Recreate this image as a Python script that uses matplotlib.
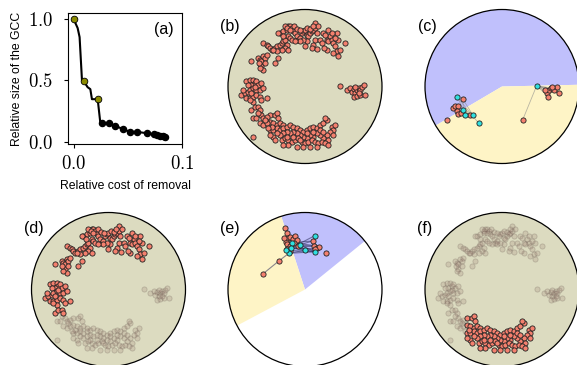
import matplotlib
matplotlib.use("Agg")
import matplotlib.pyplot as plt
from matplotlib.patches import Circle, Wedge
import numpy as np

plt.rcParams['font.family'] = ['Liberation Sans', 'DejaVu Sans']
plt.rcParams['mathtext.fontset'] = 'cm'

# ---- panel (a): GCC size vs cost of removal
cost = [0.0, 0.0037, 0.0055, 0.0077, 0.0092, 0.0129, 0.0154, 0.0169, 0.0215, 0.0222,
        0.0246, 0.0262, 0.0323, 0.0385, 0.046, 0.052, 0.0585, 0.0677, 0.0738, 0.077,
        0.080, 0.0825, 0.0846]
gcc = [1.0, 0.927, 0.853, 0.50, 0.496, 0.444, 0.428, 0.346, 0.346, 0.346,
       0.155, 0.15, 0.15, 0.128, 0.10, 0.079, 0.079, 0.068, 0.06, 0.054,
       0.049, 0.046, 0.041]
olive_idx = [0, 4, 9]
black_idx = [11, 12, 13, 14, 15, 16, 17, 18, 19, 20, 21, 22]

# ---- node embedding (disk coords, radius 1)
# group A: upper arc + left cluster
ax_A = [-0.54, -0.50, -0.48, -0.46, -0.43, -0.39, -0.37, -0.33, -0.30, -0.28, -0.26, -0.33, -0.28,
        -0.24, -0.22, -0.20, -0.17, -0.15, -0.13, -0.11, -0.09, -0.07, -0.04, -0.02, 0.00, 0.02,
        0.04, 0.07, 0.09, 0.11, 0.13, 0.15, 0.13, 0.11, 0.09, 0.02, -0.02, -0.07, -0.22, -0.20,
        -0.17, -0.24, -0.26, -0.22, -0.30, -0.37, -0.41, 0.13, 0.17, 0.24, 0.28, 0.30, 0.33, 0.35,
        0.37, 0.39, 0.41, 0.43, 0.37, 0.28, 0.30, 0.41, 0.52, 0.43, 0.46, 0.20, 0.22, 0.26,
        -0.26, -0.23, -0.20, -0.14, -0.10, -0.06, 0.03, 0.07, 0.10, -0.35, -0.29, -0.13, 0.00,
        0.16, 0.25, 0.35, 0.39,
        -0.61, -0.59, -0.57, -0.54, -0.52, -0.50, -0.57, -0.54, -0.59, -0.70, -0.35, -0.39, -0.60,
        -0.52,
        -0.76, -0.72, -0.67, -0.65, -0.70, -0.74, -0.63, -0.61, -0.57, -0.83, -0.78, -0.74, -0.72,
        -0.67, -0.63, -0.59, -0.54, -0.76, -0.72, -0.67, -0.63, -0.59, -0.50, -0.57, -0.67, -0.72,
        -0.80, -0.70, -0.65, -0.70, -0.65, -0.61, -0.59]
ay_A = [0.57, 0.54, 0.52, 0.50, 0.48, 0.50, 0.52, 0.54, 0.57, 0.59, 0.61, 0.70, 0.72,
        0.74, 0.78, 0.79, 0.76, 0.72, 0.70, 0.65, 0.61, 0.63, 0.70, 0.72, 0.74, 0.67,
        0.65, 0.70, 0.72, 0.74, 0.76, 0.70, 0.61, 0.54, 0.50, 0.59, 0.61, 0.59, 0.65, 0.63,
        0.61, 0.54, 0.50, 0.48, 0.48, 0.46, 0.48, 0.83, 0.78, 0.70, 0.61, 0.59, 0.65, 0.61,
        0.57, 0.52, 0.46, 0.39, 0.43, 0.48, 0.74, 0.70, 0.57, 0.61, 0.48, 0.61, 0.57, 0.67,
        0.78, 0.76, 0.73, 0.78, 0.75, 0.73, 0.76, 0.75, 0.78, 0.70, 0.65, 0.59, 0.52,
        0.49, 0.50, 0.70, 0.63,
        0.37, 0.35, 0.33, 0.39, 0.37, 0.41, 0.26, 0.22, 0.24, 0.33, 0.37, 0.30, 0.30,
        0.30,
        0.07, 0.09, 0.09, 0.04, 0.02, 0.02, 0.07, 0.02, 0.04, -0.11, -0.09, -0.07, -0.04,
        -0.02, -0.04, -0.04, -0.02, -0.15, -0.15, -0.13, -0.11, -0.13, -0.15, -0.17, -0.20, -0.17,
        -0.04, -0.09, 0.00, -0.30, -0.26, -0.26, -0.30]
# group B: lower arc core
bx_B = [-0.46, -0.39, -0.37, -0.35, -0.46, -0.41, -0.37, -0.33, -0.28, -0.46, -0.41, -0.37, -0.33,
        -0.28, -0.24, -0.20, -0.15, -0.11, -0.07, -0.02, 0.02, 0.07, 0.11, 0.15, 0.20, 0.24, 0.28,
        0.26, 0.35, 0.37, 0.39, 0.33, 0.28, 0.30, 0.24, 0.20, 0.15, 0.11, 0.07, 0.02, -0.02, -0.07,
        -0.11, -0.15, -0.20, -0.24, -0.28, -0.33, -0.37, -0.41, -0.46, -0.39, -0.30, -0.26, -0.22,
        -0.17, -0.13, -0.09, -0.04, 0.00, 0.04, 0.09, 0.13, 0.17, 0.22, 0.26, 0.30, -0.22, -0.28,
        -0.11, -0.02, 0.07, 0.15, 0.37, -0.43, -0.24, -0.15, -0.07, 0.02, 0.11, 0.20, 0.24]
by_B = [-0.37, -0.37, -0.35, -0.41, -0.46, -0.48, -0.50, -0.48, -0.50, -0.57, -0.57, -0.54, -0.57,
        -0.54, -0.52, -0.50, -0.52, -0.54, -0.57, -0.59, -0.57, -0.54, -0.52, -0.54, -0.50, -0.48, -0.43,
        -0.41, -0.52, -0.57, -0.50, -0.59, -0.63, -0.70, -0.67, -0.63, -0.61, -0.65, -0.63, -0.67, -0.65,
        -0.63, -0.61, -0.59, -0.61, -0.59, -0.61, -0.63, -0.61, -0.65, -0.63, -0.70, -0.70, -0.67, -0.70,
        -0.72, -0.70, -0.67, -0.72, -0.74, -0.72, -0.70, -0.72, -0.74, -0.72, -0.74, -0.76, -0.76, -0.76,
        -0.78, -0.78, -0.78, -0.78, -0.63, -0.52, -0.65, -0.65, -0.70, -0.61, -0.59, -0.57, -0.59]
# group C: lower-left tail + right cluster
cx_C = [-0.57, -0.67, -0.63, -0.54, -0.50, -0.59, -0.54, -0.50, -0.52, -0.67, -0.61, -0.48,
        0.46, 0.54, 0.59, 0.61, 0.63, 0.65, 0.67, 0.70, 0.72, 0.74, 0.76, 0.63, 0.67, 0.72, 0.78,
        0.70, 0.65]
cy_C = [-0.37, -0.41, -0.41, -0.41, -0.39, -0.48, -0.50, -0.48, -0.43, -0.65, -0.35, -0.54,
        0.01, -0.04, -0.02, -0.07, -0.03, -0.09, -0.05, -0.02, -0.04, -0.01, 0.02, -0.13, -0.12,
        -0.11, -0.11, -0.08, -0.01]

# ---- panel (c): coarse nodes + partition
c_red_x = [-0.51, -0.64, -0.61, -0.57, -0.59, -0.57, -0.53, -0.71, -0.42, 0.27,
           0.58, 0.61, 0.64, 0.67, 0.71, 0.60, 0.74, 0.56, 0.65]
c_red_y = [-0.16, -0.28, -0.25, -0.25, -0.32, -0.36, -0.35, -0.43, -0.37, -0.43,
           -0.08, -0.04, -0.02, -0.04, -0.01, -0.13, -0.09, -0.05, -0.01]
c_cyan_x = [-0.58, -0.50, -0.48, -0.38, -0.30, 0.45]
c_cyan_y = [-0.14, -0.30, -0.37, -0.37, -0.48, 0.01]
c_edges = [(24, 9), (24, 10), (24, 11), (24, 12), (24, 13), (24, 15), (24, 16), (24, 17),
           (19, 23), (0, 22), (19, 20), (20, 21), (0, 20), (3, 22), (1, 20), (20, 8)]
c_regions = [(1.3, 210.5, '#c0c0fc'), (210.5, 361.3, '#fef4c6')]

# ---- panel (e)
e_red_x = [-0.55, -0.34, -0.26, -0.24, -0.22, -0.20, -0.16, -0.13, -0.11, -0.25, -0.23, -0.20,
           -0.14, -0.09, 0.10, 0.12, 0.15, 0.18, 0.13, 0.27, -0.23, -0.19, -0.27]
e_red_y = [0.20, 0.37, 0.80, 0.74, 0.67, 0.68, 0.65, 0.70, 0.64, 0.62, 0.59, 0.56,
           0.60, 0.57, 0.63, 0.57, 0.54, 0.55, 0.52, 0.48, 0.52, 0.50, 0.67]
e_cyan_x = [0.13, -0.17, -0.07, 0.00, 0.13, -0.21, -0.25, -0.18]
e_cyan_y = [0.70, 0.61, 0.58, 0.51, 0.49, 0.47, 0.51, 0.54]
e_edges = [(0, 1), (1, 28), (28, 27), (28, 26), (30, 23), (30, 27), (24, 25), (25, 27), (24, 26),
           (29, 27), (24, 14), (24, 15), (30, 16), (25, 17), (26, 18), (24, 12), (30, 11), (29, 10),
           (24, 6), (30, 4), (28, 21), (29, 20), (24, 13), (25, 14), (30, 15)]
e_regions = [(39, 108, '#c0c0fc'), (108, 208, '#fef4c6')]

DISK = '#dcdbc0'
RED = '#f4806e'
CYAN = '#2fe0e0'
S = 14

fig = plt.figure(figsize=(5.77, 3.65), dpi=100)
W, H = 577.0, 365.0

# ---------------- (a)
ax = fig.add_axes([68 / W, 1 - 144 / H, 114 / W, 131 / H])
ax.plot(cost, gcc, color='black', lw=1.5, zorder=2)
ax.plot([cost[i] for i in black_idx], [gcc[i] for i in black_idx], 'o', color='black',
        ms=4.4, zorder=3)
ax.plot([cost[i] for i in olive_idx], [gcc[i] for i in olive_idx], 'o', mfc='#8a8a00',
        mec='black', mew=0.6, ms=4.8, zorder=4)
ax.set_xlim(-0.0052, 0.1)
ax.set_ylim(-0.02, 1.05)
ax.set_xticks([0.0, 0.1])
ax.set_xticklabels([r'$0.0$', r'$0.1$'], fontsize=13.5)
ax.set_yticks([0.0, 0.5, 1.0])
ax.set_yticklabels([r'$0.0$', r'$0.5$', r'$1.0$'], fontsize=13.5)
ax.tick_params(length=3, width=0.8)
ax.tick_params(axis='y', pad=8)
ax.tick_params(axis='x', pad=5)
ax.set_xlabel('Relative cost of removal', fontsize=8.8, labelpad=5)
ax.set_ylabel('Relative size of the GCC', fontsize=8.8, labelpad=3)
ax.text(0.93, 0.93, '(a)', transform=ax.transAxes, ha='right', va='top', fontsize=11.5)


def disk_axes(cx, cy, r=77):
    half = 1.05 * r
    a = fig.add_axes([(cx - half) / W, (H - cy - half) / H, 2 * half / W, 2 * half / H])
    a.set_xlim(-1.05, 1.05)
    a.set_ylim(-1.05, 1.05)
    a.set_aspect('equal')
    a.axis('off')
    return a


def draw_nodes(a, x, y, faded=False):
    if faded:
        a.scatter(x, y, s=S, facecolor='#9c7c72', edgecolor='#4a3a35', linewidths=0.6,
                  alpha=0.22, zorder=3)
    else:
        a.scatter(x, y, s=S, facecolor=RED, edgecolor='#222222', linewidths=0.6, zorder=4)


all_x = ax_A + bx_B + cx_C
all_y = ay_A + by_B + cy_C

# ---------------- (b)
axb = disk_axes(305, 86.5)
axb.add_patch(Circle((0, 0), 1, facecolor=DISK, edgecolor='black', lw=0.9))
draw_nodes(axb, all_x, all_y)
fig.text(230 / W, 1 - 27 / H, '(b)', ha='center', va='center', fontsize=11.5)

# ---------------- (d)
axd = disk_axes(108.5, 289.5)
axd.add_patch(Circle((0, 0), 1, facecolor=DISK, edgecolor='black', lw=0.9))
draw_nodes(axd, bx_B + cx_C, by_B + cy_C, faded=True)
draw_nodes(axd, ax_A, ay_A)
fig.text(34 / W, 1 - 229 / H, '(d)', ha='center', va='center', fontsize=11.5)

# ---------------- (f)
axf = disk_axes(502, 289.5)
axf.add_patch(Circle((0, 0), 1, facecolor=DISK, edgecolor='black', lw=0.9))
draw_nodes(axf, ax_A + cx_C, ay_A + cy_C, faded=True)
draw_nodes(axf, bx_B, by_B)
fig.text(425 / W, 1 - 229 / H, '(f)', ha='center', va='center', fontsize=11.5)


def coarse_panel(a, regions, rx, ry, cxs, cys, edges, ecolor, ealpha, elw):
    a.add_patch(Circle((0, 0), 1, facecolor='white', edgecolor='none'))
    for t1, t2, col in regions:
        a.add_patch(Wedge((0, 0), 1, t1, t2, facecolor=col, edgecolor='none'))
    a.add_patch(Circle((0, 0), 1, facecolor='none', edgecolor='black', lw=0.9, zorder=5))
    nx = rx + cxs
    ny = ry + cys
    for i, j in edges:
        a.plot([nx[i], nx[j]], [ny[i], ny[j]], color=ecolor, alpha=ealpha, lw=elw, zorder=2)
    a.scatter(rx, ry, s=S, facecolor=RED, edgecolor='#222222', linewidths=0.6, zorder=4)
    a.scatter(cxs, cys, s=S, facecolor=CYAN, edgecolor='#222222', linewidths=0.6, zorder=4)


# ---------------- (c)
axc = disk_axes(502, 86.5)
coarse_panel(axc, c_regions, c_red_x, c_red_y, c_cyan_x, c_cyan_y, c_edges,
             '#8a8a8a', 0.6, 0.6)
fig.text(427 / W, 1 - 27 / H, '(c)', ha='center', va='center', fontsize=11.5)

# ---------------- (e)
axe = disk_axes(305, 289.5)
coarse_panel(axe, e_regions, e_red_x, e_red_y, e_cyan_x, e_cyan_y, e_edges,
             '#2a2a5a', 0.55, 0.8)
fig.text(230 / W, 1 - 229 / H, '(e)', ha='center', va='center', fontsize=11.5)

fig.savefig('out.png', dpi=100)
